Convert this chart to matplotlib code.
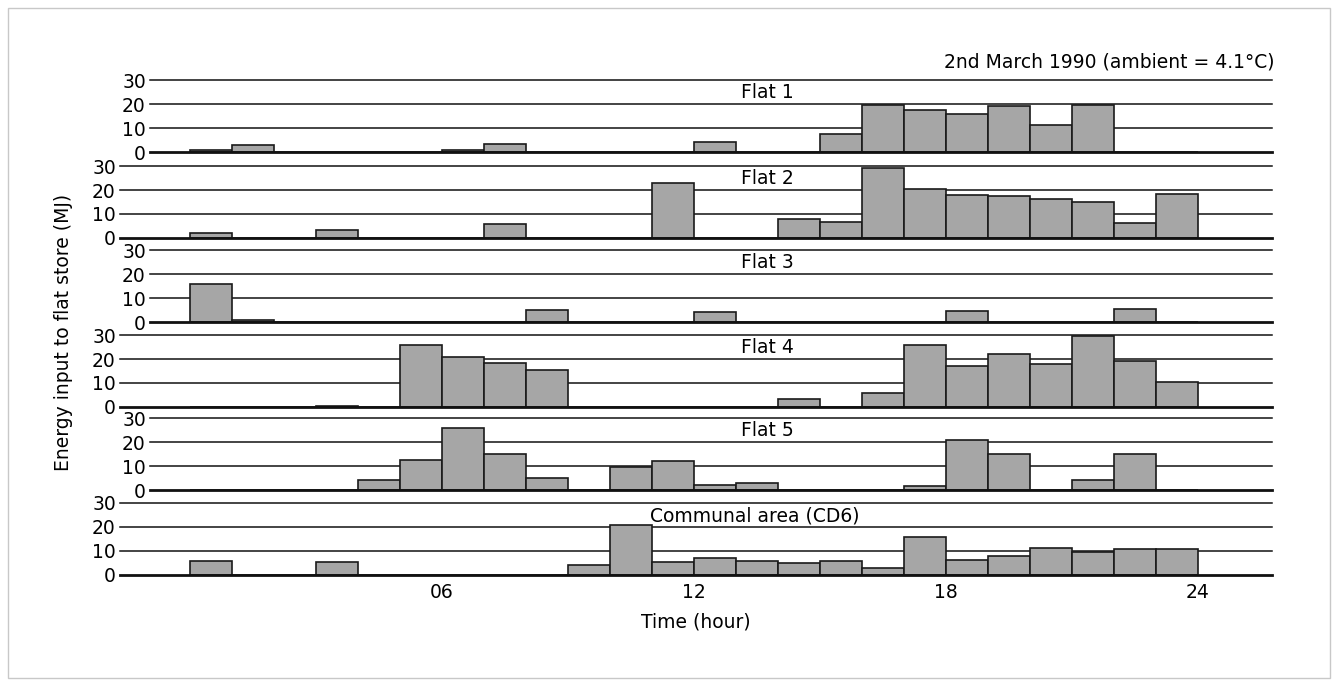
import matplotlib
matplotlib.use('Agg')
import matplotlib.pyplot as plt
from matplotlib.patches import Rectangle

hours = list(range(24))
panel_names = ["Flat 1", "Flat 2", "Flat 3", "Flat 4", "Flat 5", "Communal area (CD6)"]

flat1 = [1, 3, 0, 0, 0, 0, 0.8, 3.3, 0, 0, 0, 0, 4, 0, 0, 7.5, 19.4, 17.7, 15.9, 19, 11.3, 19.4, 0, 0]
flat2 = [2, 0, 0, 3.5, 0, 0, 0, 6, 0, 0, 0, 23, 0, 0, 8, 6.5, 29.3, 20.5, 18, 17.3, 16.2, 15.2, 6.3, 18.2]
flat3 = [16, 1, 0, 0, 0, 0, 0, 0, 5, 0, 0, 0, 4, 0, 0, 0, 0, 0, 4.5, 0, 0, 0, 5.5, 0]
flat4 = [0, 0, 0, 0.5, 0, 26, 21, 18.5, 15.5, 0, 0, 0, 0, 0, 3.5, 0, 6, 26, 17, 22, 18, 29.5, 19, 10.5]
flat5 = [0, 0, 0, 0, 4, 12.5, 26, 15, 5, 0, 9.5, 12, 2, 3, 0, 0, 0, 1.5, 21, 15, 0, 4, 15, 0]
communal = [6, 0, 0, 5.5, 0, 0, 0, 0, 0, 4, 21, 5.5, 7, 6, 5, 6, 3, 16, 6.3, 8.1, 11.3, 9.6, 11, 11]
series = [flat1, flat2, flat3, flat4, flat5, communal]

y_ticks = [0, 10, 20, 30]
x_ticks = [6, 12, 18, 24]
x_tick_labels = ["06", "12", "18", "24"]

plt.rcParams['font.family'] = ['DejaVu Sans']

W, H = 1338, 686
fig = plt.figure(figsize=(W / 100, H / 100), dpi=100)
fig.patch.set_facecolor('white')

# frame
fig.patches.append(Rectangle((8 / W, 8 / H), (W - 16) / W, (H - 16) / H,
                             transform=fig.transFigure, fill=False,
                             edgecolor='#c8c8c8', lw=1.0))

zero_px = [152, 238, 322, 407, 490, 575]
panel_h = 72
x0_px = 190.0
px_per_hr = 42.0
right_px = 1272
FS = 13.5

for i, (name, vals) in enumerate(zip(panel_names, series)):
    left_px = 150 if i % 2 == 0 else 120
    bottom = 1 - zero_px[i] / H
    ax = fig.add_axes([left_px / W, bottom, (right_px - left_px) / W, panel_h / H])
    ax.set_xlim((left_px - x0_px) / px_per_hr, (right_px - x0_px) / px_per_hr)
    ax.set_ylim(0, 30)
    for s in ax.spines.values():
        s.set_visible(False)
    ax.patch.set_alpha(0)
    for v in y_ticks[1:]:
        ax.axhline(v, color='#111111', lw=1.1, zorder=1, clip_on=False)
    ax.axhline(0, color='#111111', lw=2.0, zorder=3, clip_on=False)
    ax.bar(hours, vals, width=1.0, align='edge', color='#a6a6a6',
           edgecolor='#1a1a1a', linewidth=1.2, zorder=2)
    ax.set_yticks(y_ticks)
    ax.set_yticklabels([str(t) for t in y_ticks])
    ax.tick_params(axis='y', length=0, pad=3, labelsize=FS)
    if i == len(series) - 1:
        ax.set_xticks(x_ticks)
        ax.set_xticklabels(x_tick_labels)
        ax.tick_params(axis='x', length=0, pad=6, labelsize=FS)
        ax.set_xlabel("Time (hour)", fontsize=FS, labelpad=7)
        ax.text(13.45, 24.5, name, ha='center', va='center', fontsize=FS)
    else:
        ax.set_xticks([])
        ax.text(13.75, 25, name, ha='center', va='center', fontsize=FS)

fig.text(1274 / W, 1 - 62 / H, "2nd March 1990 (ambient = 4.1°C)",
         ha='right', va='center', fontsize=FS)
fig.text(64 / W, 1 - 332 / H, "Energy input to flat store (MJ)",
         ha='center', va='center', rotation=90, fontsize=FS)

fig.savefig('out.png', dpi=100, facecolor='white')
